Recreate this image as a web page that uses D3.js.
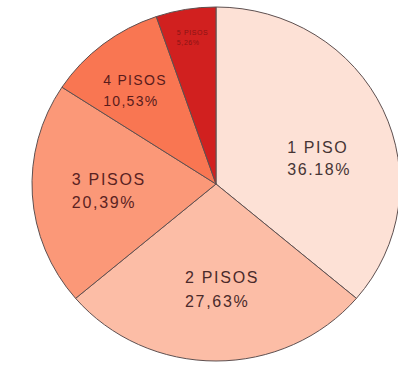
<!DOCTYPE html>
<html>
<head>
<meta charset="utf-8">
<script src="https://cdn.jsdelivr.net/npm/d3@7/dist/d3.min.js"></script>
<style>
  html, body { margin: 0; padding: 0; background: #ffffff; }
  svg { display: block; }
</style>
</head>
<body>
<script>
// ---- data ----
const categories = ["1 PISO", "2 PISOS", "3 PISOS", "4 PISOS", "5 PISOS"];
const percents   = [36.18, 27.63, 20.39, 10.53, 5.26];
const valueLabels = ["36.18%", "27,63%", "20,39%", "10,53%", "5,26%"];
const sliceColors = ["#fde1d6", "#fcbda6", "#fb9878", "#f97652", "#d1201f"];

// ---- layout ----
const W = 398, H = 369;
const cx = 216, cy = 184;
const R = 177;           // vertical radius
const sx = 184 / 177;    // horizontal stretch (slightly oval pie)

const svg = d3.select("body").append("svg")
  .attr("width", W).attr("height", H);

const pie = d3.pie().sort(null).value(d => d.v);
const data = categories.map((c, i) => ({ c, v: percents[i], lab: valueLabels[i], col: sliceColors[i] }));
const arcs = pie(data);

const arc = d3.arc().innerRadius(0).outerRadius(R);
const labelArc = d3.arc().innerRadius(R * 0.6).outerRadius(R * 0.6);

const g = svg.append("g")
  .attr("transform", `translate(${cx},${cy}) scale(${sx},1)`);

g.selectAll("path.slice")
  .data(arcs)
  .enter().append("path")
  .attr("class", "slice")
  .attr("d", arc)
  .attr("fill", d => d.data.col)
  .attr("stroke", "#5e5050")
  .attr("stroke-width", 1)
  .attr("vector-effect", "non-scaling-stroke");

// label styling / nudges (relative to arc centroid, left-aligned blocks)
const labelStyle = [
  { dx: -29, dy: 14,  size: 16, ls: 1.6, lh: 22, fill: "#463434" },
  { dx: -31, dy: -7,  size: 16, ls: 1.7, lh: 24, fill: "#4a2a2a" },
  { dx: -34, dy: -6,  size: 16, ls: 1.7, lh: 23, fill: "#5a2222" },
  { dx: -45, dy: -15, size: 14, ls: 1.3, lh: 21, fill: "#5a1c1c" },
  { dx: -21, dy: -44, size: 7,  ls: 0.6, lh: 10, fill: "#8a1414" }
];

const lg = svg.append("g").attr("transform", `translate(${cx},${cy})`);
arcs.forEach((d, i) => {
  const c = labelArc.centroid(d);
  const st = labelStyle[i];
  const x = c[0] * sx + st.dx;
  const y = c[1] + st.dy;
  const t = lg.append("text")
    .attr("x", x).attr("y", y)
    .attr("text-anchor", "start")
    .attr("font-family", "'Liberation Sans', Arial, sans-serif")
    .attr("font-size", st.size)
    .attr("letter-spacing", st.ls)
    .attr("fill", st.fill);
  t.append("tspan").attr("x", x).attr("y", y).text(d.data.c);
  t.append("tspan").attr("x", x).attr("y", y + st.lh).text(d.data.lab);
});
</script>
</body>
</html>
